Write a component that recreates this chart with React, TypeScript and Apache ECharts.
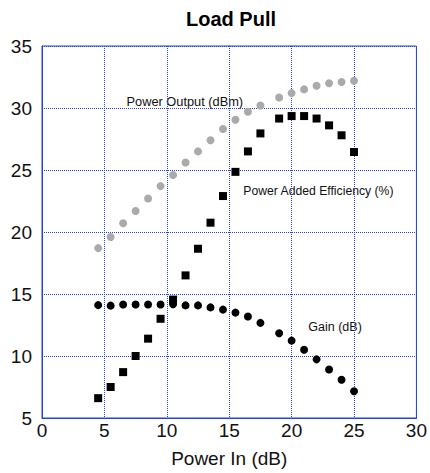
import React, { useEffect, useRef } from "react";
import * as echarts from "echarts";

const powerIn = [4.5, 5.5, 6.5, 7.5, 8.5, 9.5, 10.5, 11.5, 12.5, 13.5, 14.5, 15.5, 16.5, 17.5, 19, 20, 21, 22, 23, 24, 25];
const powerOutput = [18.7, 19.6, 20.7, 21.7, 22.7, 23.7, 24.6, 25.6, 26.5, 27.4, 28.3, 29.05, 29.7, 30.2, 30.85, 31.2, 31.5, 31.8, 32.0, 32.1, 32.2];
const pae = [6.6, 7.5, 8.7, 10.0, 11.4, 13.0, 14.55, 16.5, 18.65, 20.75, 22.9, 24.85, 26.5, 27.95, 29.15, 29.35, 29.35, 29.15, 28.6, 27.8, 26.45];
const gain = [14.1, 14.06, 14.15, 14.15, 14.15, 14.15, 14.18, 14.08, 14.08, 13.92, 13.74, 13.5, 13.18, 12.67, 11.83, 11.24, 10.5, 9.73, 8.91, 8.09, 7.16];

const title = "Load Pull";
const xAxisName = "Power In (dB)";
const labelPowerOutput = "Power Output (dBm)";
const labelPae = "Power Added Efficiency (%)";
const labelGain = "Gain (dB)";

const BLUE = "#2540e6";
const FONT = "Liberation Sans, Arial, Helvetica, sans-serif";

const pairs = (ys: number[]) => powerIn.map((x, i) => [x, ys[i]]);

export default function App() {
  const ref = useRef<HTMLDivElement>(null);
  useEffect(() => {
    if (!ref.current) return;
    const chart = echarts.init(ref.current, undefined, { renderer: "svg" });
    chart.setOption({
      animation: false,
      backgroundColor: "#ffffff",
      textStyle: { fontFamily: FONT },
      grid: {
        left: 42,
        right: 10,
        top: 46,
        bottom: 50,
        show: true,
        borderColor: BLUE,
        borderWidth: 1,
        backgroundColor: "transparent",
      },
      xAxis: {
        type: "value",
        min: 0,
        max: 30,
        interval: 5,
        name: xAxisName,
        nameLocation: "middle",
        nameGap: 31,
        nameTextStyle: { fontSize: 19, color: "#111", fontFamily: FONT },
        axisLine: { show: true, lineStyle: { color: BLUE, width: 1 } },
        axisTick: { show: false },
        axisLabel: { fontSize: 19, color: "#111", margin: 3, fontFamily: FONT },
        splitLine: { show: true, lineStyle: { color: BLUE, type: "dotted", width: 1 } },
      },
      yAxis: {
        type: "value",
        min: 5,
        max: 35,
        interval: 5,
        axisLine: { show: true, lineStyle: { color: BLUE, width: 1 } },
        axisTick: { show: false },
        axisLabel: { fontSize: 19, color: "#111", margin: 10, padding: [0, 0, 7, 0], fontFamily: FONT },
        splitLine: { show: true, lineStyle: { color: BLUE, type: "dotted", width: 1 } },
      },
      series: [
        {
          name: labelPowerOutput,
          type: "scatter",
          symbol: "circle",
          symbolSize: 8,
          itemStyle: { color: "#aaaaaa", opacity: 1 },
          data: pairs(powerOutput),
        },
        {
          name: labelPae,
          type: "scatter",
          symbol: "rect",
          symbolSize: 8,
          itemStyle: { color: "#000000", opacity: 1 },
          data: pairs(pae),
        },
        {
          name: labelGain,
          type: "scatter",
          symbol: "circle",
          symbolSize: 8,
          itemStyle: { color: "#000000", opacity: 1 },
          data: pairs(gain),
        },
      ],
      graphic: [
        {
          type: "text",
          x: 231,
          y: 19,
          style: { text: title, font: `bold 20px ${FONT}`, fill: "#000", textAlign: "center", textVerticalAlign: "middle" },
        },
        {
          type: "text",
          x: 126.5,
          y: 101.5,
          style: { text: labelPowerOutput, font: `12.8px ${FONT}`, fill: "#111", textAlign: "left", textVerticalAlign: "middle" },
        },
        {
          type: "text",
          x: 243.3,
          y: 190.7,
          style: { text: labelPae, font: `12.2px ${FONT}`, fill: "#111", textAlign: "left", textVerticalAlign: "middle" },
        },
        {
          type: "text",
          x: 308.3,
          y: 326.7,
          style: { text: labelGain, font: `12.5px ${FONT}`, fill: "#111", textAlign: "left", textVerticalAlign: "middle" },
        },
      ],
    });
    return () => chart.dispose();
  }, []);
  return <div ref={ref} style={{ width: 430, height: 473, position: "fixed", left: 0, top: 0 }} />;
}
